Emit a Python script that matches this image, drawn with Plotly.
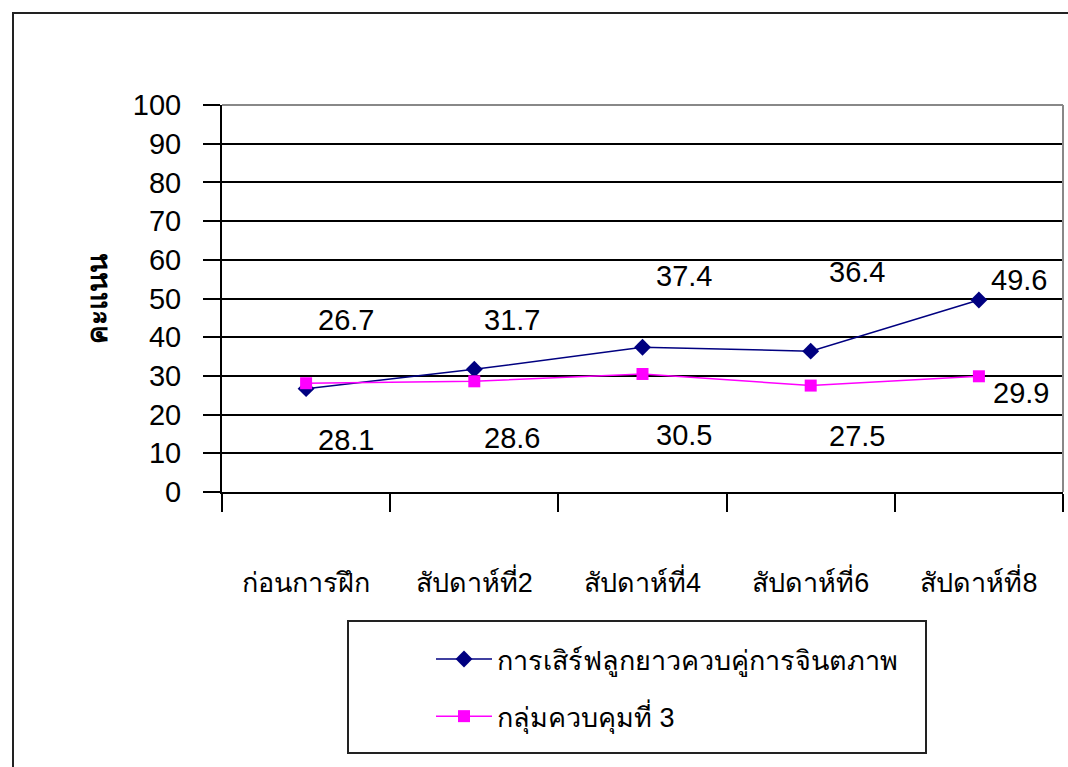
import plotly.graph_objects as go

categories = ["ก่อนการฝึก", "สัปดาห์ที่2", "สัปดาห์ที่4", "สัปดาห์ที่6", "สัปดาห์ที่8"]
series1_name = "การเสิร์ฟลูกยาวควบคู่การจินตภาพ"
series1 = [26.7, 31.7, 37.4, 36.4, 49.6]
series2_name = "กลุ่มควบคุมที่ 3"
series2 = [28.1, 28.6, 30.5, 27.5, 29.9]
y_title = "คะแนน"
y_ticks = [0, 10, 20, 30, 40, 50, 60, 70, 80, 90, 100]

# label pixel offsets (style)
s1_xshift = [40, 38, 41, 46, 40]
s1_yshift = [69, 49, 71, 79, 20]
s2_xshift = [40, 38, 41, 46, 42]
s2_yshift = [-57, -57, -61, -50, -17]

W, H = 1068, 767
L, R, T, B = 222, 1063, 105, 492
FONT = "Arial, Liberation Sans, sans-serif"
NUM = 29

fig = go.Figure()
fig.add_trace(go.Scatter(
    x=categories, y=series1, name=series1_name, mode="lines+markers",
    line=dict(color="#000080", width=1.5),
    marker=dict(symbol="diamond", size=13, color="#000080"),
    legendgroup="a"))
fig.add_trace(go.Scatter(
    x=categories, y=series2, name=series2_name, mode="lines+markers",
    line=dict(color="#FF00FF", width=1.5),
    marker=dict(symbol="square", size=12, color="#FF00FF"),
    legendgroup="b"))

ann = []
for i, c in enumerate(categories):
    ann.append(dict(x=c, y=series1[i], xref="x", yref="y", text=f"{series1[i]}",
                    showarrow=False, xshift=s1_xshift[i], yshift=s1_yshift[i],
                    font=dict(family=FONT, size=NUM, color="#000")))
    ann.append(dict(x=c, y=series2[i], xref="x", yref="y", text=f"{series2[i]}",
                    showarrow=False, xshift=s2_xshift[i], yshift=s2_yshift[i],
                    font=dict(family=FONT, size=NUM, color="#000")))
pw, ph = R - L, B - T
ann.append(dict(x=(97 - L) / pw, y=0.5, xref="paper", yref="paper", text=f"<b>{y_title}</b>",
                textangle=-90, showarrow=False, xanchor="center", yanchor="middle",
                font=dict(family=FONT, size=28, color="#000")))

shapes = [
    dict(type="rect", xref="paper", yref="paper",
         x0=(13 - L) / pw, x1=(1080 - L) / pw, y0=(B - 780) / ph, y1=(B - 13) / ph,
         line=dict(color="#222", width=2)),
    dict(type="line", xref="paper", yref="paper", x0=0, x1=1, y0=1, y1=1,
         line=dict(color="#888", width=2)),
    dict(type="line", xref="paper", yref="paper", x0=1, x1=1, y0=0, y1=1,
         line=dict(color="#888", width=2)),
    dict(type="rect", xref="paper", yref="paper",
         x0=(348 - L) / pw, x1=(926 - L) / pw, y0=(B - 753) / ph, y1=(B - 621) / ph,
         line=dict(color="#222", width=2)),
]

fig.update_layout(
    width=W, height=H,
    margin=dict(l=L, r=W - R, t=T, b=H - B, autoexpand=False),
    paper_bgcolor="white", plot_bgcolor="white",
    font=dict(family=FONT, size=NUM, color="#000"),
    showlegend=True,
    legend=dict(x=(431 - L) / pw, y=(B - 635) / ph, xanchor="left", yanchor="top",
                bgcolor="rgba(0,0,0,0)", borderwidth=0, tracegroupgap=19,
                itemwidth=56, font=dict(family=FONT, size=27, color="#000")),
    annotations=ann, shapes=shapes,
)
fig.update_xaxes(type="category", tickson="boundaries", ticks="outside", ticklen=18,
                 tickwidth=1.5, tickcolor="#000", showline=True, linecolor="#000", linewidth=2,
                 showgrid=False, ticklabelstandoff=66, range=[-0.5, 4.5], tickangle=0,
                 tickfont=dict(family=FONT, size=27, color="#000"))
fig.update_yaxes(range=[0, 100], tickvals=y_ticks, ticks="outside", ticklen=17, tickwidth=2,
                 tickcolor="#000", showline=True, linecolor="#000", linewidth=2,
                 showgrid=True, gridcolor="#000", gridwidth=2, zeroline=False,
                 ticklabelstandoff=16, tickfont=dict(family=FONT, size=NUM, color="#000"))

fig.write_html("out.html")
